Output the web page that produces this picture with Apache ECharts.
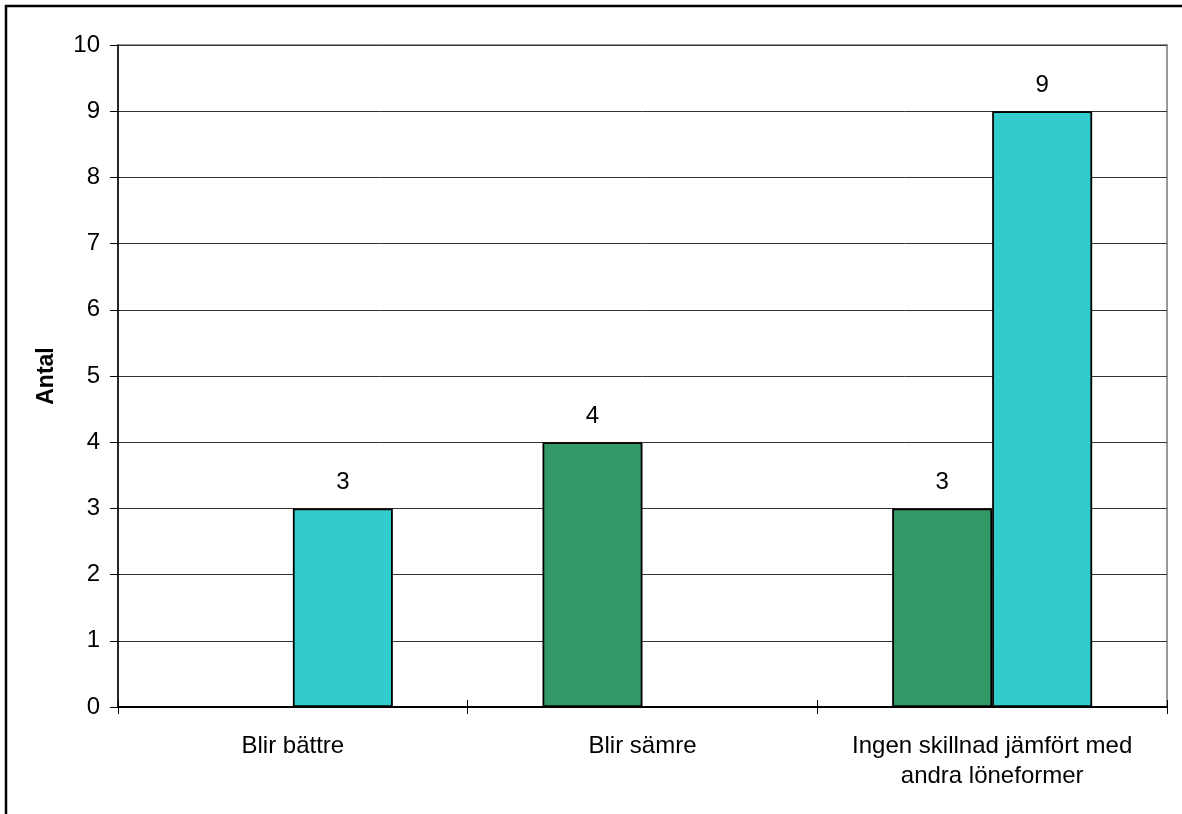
<!DOCTYPE html>
<html>
<head>
<meta charset="utf-8">
<script src="https://cdn.jsdelivr.net/npm/echarts@6/dist/echarts.min.js"></script>
<style>html,body{margin:0;padding:0;background:#fff}#c{width:1182px;height:814px}</style>
</head>
<body>
<div id="c"></div>
<script>
var categories = ['Blir bättre', 'Blir sämre', 'Ingen skillnad jämfört med\nandra löneformer'];
var seriesGreen = [null, 4, 3];
var seriesCyan = [3, null, 9];
var yTicks = [0, 10, 1];
var yName = 'Antal';

var chart = echarts.init(document.getElementById('c'));
var font = 'Liberation Sans, Arial, sans-serif';
var lbl = { show: true, position: 'top', distance: 14, fontSize: 24, fontFamily: font, color: '#000' };
chart.setOption({
  animation: false,
  backgroundColor: '#fff',
  graphic: [{
    type: 'rect', shape: { x: 6, y: 6, width: 1200, height: 830 },
    style: { fill: 'none', stroke: '#000', lineWidth: 2.5 }, z: 100
  }],
  grid: { left: 118, right: 15, top: 45, bottom: 107, show: true, borderColor: '#999', borderWidth: 2, backgroundColor: 'transparent' },
  xAxis: [{
    type: 'category', data: categories,
    axisLine: { lineStyle: { color: '#000', width: 2 } },
    axisTick: { show: true, length: 7, lineStyle: { color: '#000', width: 1 } },
    axisLabel: { fontSize: 24, fontFamily: font, color: '#000', margin: 24, lineHeight: 30, interval: 0 },
    splitLine: { show: false }
  }, {
    type: 'category', data: categories, position: 'bottom',
    axisLine: { show: false },
    axisTick: { show: true, inside: true, length: 7, lineStyle: { color: '#000', width: 1 } },
    axisLabel: { show: false }, splitLine: { show: false }
  }],
  yAxis: {
    type: 'value', min: yTicks[0], max: yTicks[1], interval: yTicks[2],
    name: yName, nameLocation: 'middle', nameGap: 60, nameRotate: 90,
    nameTextStyle: { fontSize: 23, fontWeight: 'bold', fontFamily: font, color: '#000' },
    axisLine: { show: true, lineStyle: { color: '#000', width: 1.5 } },
    axisTick: { show: true, length: 8, lineStyle: { color: '#000' } },
    axisLabel: { fontSize: 24, fontFamily: font, color: '#000', margin: 18 },
    splitLine: { show: true, lineStyle: { color: '#333', width: 1 } }
  },
  series: [{
    type: 'bar', data: seriesGreen, barWidth: 100, barGap: '0%',
    itemStyle: { color: '#339966', borderColor: '#000', borderWidth: 1.8 },
    label: lbl
  }, {
    type: 'bar', data: seriesCyan, barWidth: 100, barGap: '0%',
    itemStyle: { color: '#33CCCC', borderColor: '#000', borderWidth: 1.8 },
    label: lbl
  }]
});
</script>
</body>
</html>
